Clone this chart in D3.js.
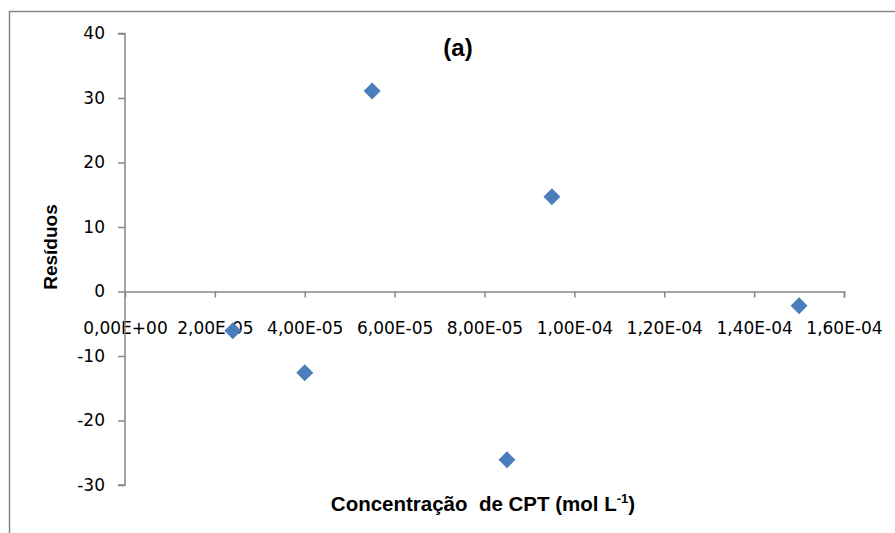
<!DOCTYPE html>
<meta charset='utf-8'>
<title>Resíduos (a)</title>
<style>
body {
  margin: 0;
  background-color: #fff;
}
.tick text {
  font-family: "DejaVu Sans", sans-serif;
  font-size: 17px;
  fill: #000;
}
.lbl {
  font-family: "Liberation Sans", Arial, sans-serif;
  font-weight: bold;
  fill: #000;
}
</style>
<svg width="895" height="533"></svg>
<script src="https://d3js.org/d3.v7.min.js"></script>
<script>

// Concentration of CPT (mol L-1) and residuals
var concentracao = [2.4e-5, 4.0e-5, 5.5e-5, 8.5e-5, 9.5e-5, 1.5e-4];
var residuos = [-6.1, -12.6, 31.1, -26.1, 14.7, -2.2];

var xTicks = [0, 2e-5, 4e-5, 6e-5, 8e-5, 1e-4, 1.2e-4, 1.4e-4, 1.6e-4];
var yTicks = [-30, -20, -10, 0, 10, 20, 30, 40];

var svg = d3.select("svg");

// outer chart border
svg.append("rect")
    .attr("x", 9.5)
    .attr("y", 11.5)
    .attr("width", 1000)
    .attr("height", 1000)
    .attr("fill", "none")
    .attr("stroke", "#868686")
    .attr("stroke-width", 1.5);

var x = d3.scaleLinear()
    .domain([0, 1.6e-4])
    .range([125, 844]);

var y = d3.scaleLinear()
    .domain([-30, 40])
    .range([485, 33.5]);

// "2,00E-05" style labels
function sci(d) {
  var s = d.toExponential(2).split("e");
  var exp = +s[1];
  var e = (exp < 0 ? "-" : "+") + (Math.abs(exp) < 10 ? "0" : "") + Math.abs(exp);
  return s[0].replace(".", ",") + "E" + e;
}

var xAxis = svg.append("g")
    .attr("transform", "translate(0," + y(0) + ")")
    .call(d3.axisBottom(x).tickValues(xTicks).tickFormat(sci).tickSizeInner(6).tickSizeOuter(6).tickPadding(24));

var yAxis = svg.append("g")
    .attr("transform", "translate(" + x(0) + ",0)")
    .call(d3.axisLeft(y).tickValues(yTicks).tickFormat(function(d) { return String(d); }).tickSizeInner(7).tickSizeOuter(7).tickPadding(13));

svg.selectAll(".domain, .tick line")
    .attr("stroke", "#868686")
    .attr("stroke-width", 1.5);

yAxis.select(".domain").attr("d", "M" + -7 + "," + y(40) + "H0V" + y(-30) + "H" + -7);
xAxis.selectAll(".tick").filter(function(d) { return d === 0; }).select("line").remove();

// diamond markers
svg.selectAll("path.pt")
    .data(concentracao)
  .enter().append("path")
    .attr("class", "pt")
    .attr("d", d3.symbol(d3.symbolSquare, 144))
    .attr("transform", function(d, i) {
      return "translate(" + x(d) + "," + y(residuos[i]) + ") rotate(45)";
    })
    .attr("fill", "#4a7ebb");

svg.append("text")
    .attr("class", "lbl")
    .attr("x", 458)
    .attr("y", 56)
    .attr("text-anchor", "middle")
    .style("font-size", "24px")
    .text("(a)");

svg.append("text")
    .attr("class", "lbl")
    .attr("transform", "translate(57,247) rotate(-90)")
    .attr("text-anchor", "middle")
    .style("font-size", "19px")
    .text("Resíduos");

var xl = svg.append("text")
    .attr("class", "lbl")
    .attr("x", 483)
    .attr("y", 511)
    .attr("text-anchor", "middle")
    .style("font-size", "20.5px")
    .style("white-space", "pre");
xl.append("tspan").text("Concentração  de CPT (mol L");
xl.append("tspan").attr("dy", -8).style("font-size", "13px").text("-1");
xl.append("tspan").attr("dy", 8).text(")");

</script>
